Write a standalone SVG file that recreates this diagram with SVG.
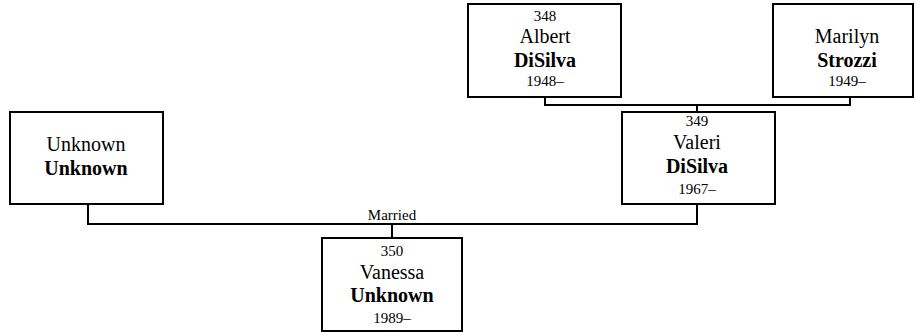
<svg xmlns="http://www.w3.org/2000/svg" width="915" height="333" viewBox="0 0 915 333">
<defs>
<style>
.box{fill:#fff;stroke:#000;stroke-width:2}
.ln{fill:none;stroke:#000;stroke-width:2}
</style>
</defs>
<rect width="915" height="333" fill="#fff"/>
<g id="connectors">
<polyline class="ln" points="545,97 545,105 850,105 850,97"/>
<line class="ln" x1="697" y1="105" x2="697" y2="112"/>
<polyline class="ln" points="88,204 88,224 697,224 697,204"/>
<line class="ln" x1="392" y1="224" x2="392" y2="238"/>
<text x="392" y="220" font-family="Liberation Serif" font-size="15" text-anchor="middle">Married</text>
</g>
<g id="p348" font-family="Liberation Serif" text-anchor="middle" fill="#000">
<rect class="box" x="468" y="4" width="153" height="93"/>
<text x="545" y="21" font-size="15">348</text>
<text x="545" y="43" font-size="20">Albert</text>
<text x="545" y="67" font-size="20" font-weight="bold">DiSilva</text>
<text x="545" y="86" font-size="15">1948–</text>
</g>
<g id="marilyn" font-family="Liberation Serif" text-anchor="middle" fill="#000">
<rect class="box" x="773" y="4" width="140" height="93"/>
<text x="847" y="43" font-size="20">Marilyn</text>
<text x="847" y="67" font-size="20" font-weight="bold">Strozzi</text>
<text x="847" y="86" font-size="15">1949–</text>
</g>
<g id="unknown" font-family="Liberation Serif" text-anchor="middle" fill="#000">
<rect class="box" x="10" y="112" width="153" height="92"/>
<text x="86" y="151" font-size="20">Unknown</text>
<text x="86" y="175" font-size="20" font-weight="bold">Unknown</text>
</g>
<g id="p349" font-family="Liberation Serif" text-anchor="middle" fill="#000">
<rect class="box" x="622" y="112" width="153" height="92"/>
<text x="697" y="126" font-size="15">349</text>
<text x="697" y="149" font-size="20">Valeri</text>
<text x="697" y="173" font-size="20" font-weight="bold">DiSilva</text>
<text x="697" y="194" font-size="15">1967–</text>
</g>
<g id="p350" font-family="Liberation Serif" text-anchor="middle" fill="#000">
<rect class="box" x="322" y="238" width="140" height="93"/>
<text x="392" y="256" font-size="15">350</text>
<text x="392" y="279" font-size="20">Vanessa</text>
<text x="392" y="302" font-size="20" font-weight="bold">Unknown</text>
<text x="392" y="323" font-size="15">1989–</text>
</g>
</svg>
